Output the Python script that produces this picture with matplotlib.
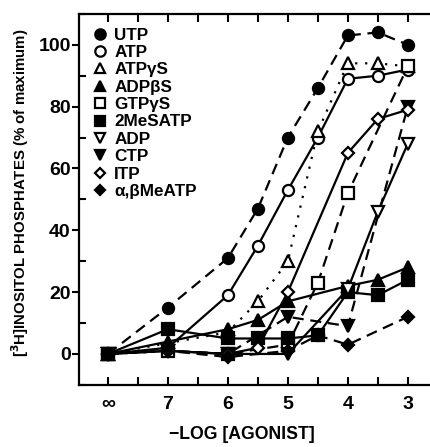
import numpy as np
import matplotlib.pyplot as plt
from matplotlib.lines import Line2D
from matplotlib.ticker import MultipleLocator

plt.rcParams['font.family'] = ['Liberation Sans', 'DejaVu Sans']
plt.rcParams['font.weight'] = 'bold'

# -log[agonist]; 8 stands for "infinity" (no agonist)
utp_x = [8, 7, 6, 5.5, 5, 4.5, 4, 3.5, 3]
utp_y = [0, 15, 31, 47, 70, 86, 103, 104, 100]
atp_x = [8, 7, 6, 5.5, 5, 4.5, 4, 3.5, 3]
atp_y = [0, 2, 19, 35, 53, 70, 89, 90, 92]
atpgs_x = [8, 6, 5.5, 5, 4.5, 4, 3.5, 3]
atpgs_y = [0, 7, 17, 30, 72, 94, 94, 93]
adpbs_x = [8, 7, 6, 5.5, 5, 4, 3.5, 3]
adpbs_y = [0, 4, 8, 11, 17, 22, 24, 28]
gtpgs_x = [8, 7, 6, 5, 4.5, 4, 3]
gtpgs_y = [0, 1, 0, 3, 23, 52, 93]
mesatp_x = [8, 7, 6, 5.5, 5, 4.5, 4, 3.5, 3]
mesatp_y = [0, 8, 5, 5, 5, 6, 20, 19, 24]
adp_x = [8, 7, 6, 5, 4, 3.5, 3]
adp_y = [0, 1, 0, 0, 21, 46, 68]
ctp_x = [8, 7, 6, 5, 4, 3]
ctp_y = [0, 1, 0, 12, 9, 80]
itp_x = [8, 7, 6, 5.5, 5, 4, 3.5, 3]
itp_y = [0, 1, 0, 2, 20, 65, 76, 79]
abme_x = [8, 7, 6, 5, 4.5, 4, 3]
abme_y = [0, 1, -1, 1, 6, 3, 12]

labels = ['UTP', 'ATP', 'ATPγS', 'ADPβS', 'GTPγS', '2MeSATP', 'ADP', 'CTP', 'ITP', 'α,βMeATP']
xticks = [8, 7, 6, 5, 4, 3]
xticklabels = ['∞', '7', '6', '5', '4', '3']

dash = (0, (5, 3))
series = [
    (utp_x, utp_y, 'o', 'k', dash),
    (atp_x, atp_y, 'o', 'w', '-'),
    (atpgs_x, atpgs_y, '^', 'w', (0, (1, 3.5))),
    (adpbs_x, adpbs_y, '^', 'k', '-'),
    (gtpgs_x, gtpgs_y, 's', 'w', dash),
    (mesatp_x, mesatp_y, 's', 'k', '-'),
    (adp_x, adp_y, 'v', 'w', '-'),
    (ctp_x, ctp_y, 'v', 'k', dash),
    (itp_x, itp_y, 'D', 'w', '-'),
    (abme_x, abme_y, 'D', 'k', dash),
]

fig = plt.figure(figsize=(4.30, 4.47), dpi=100)
ax = fig.add_axes([0.184, 0.139, 0.816, 0.83])

handles = []
for (x, y, m, fc, ls), lab in zip(series, labels):
    ms = 6 if m == 'D' else 8
    ax.plot(x, y, color='k', lw=1.6, ls=ls, zorder=2)
    ax.plot(x, y, ls='none', marker=m, ms=ms, mfc=fc, mec='k', mew=1.6, zorder=3)
    handles.append(Line2D([], [], ls='none', marker=m, ms=ms - 0.5, mfc=fc, mec='k', mew=1.6))

ax.set_xlim(8.48, 2.63)
ax.set_ylim(-10, 110)
ax.spines['right'].set_visible(False)
for s in ['left', 'top', 'bottom']:
    ax.spines[s].set_linewidth(1.6)

ax.set_xticks(xticks)
ax.set_xticklabels(xticklabels, fontsize=14, fontweight='bold')
ax.xaxis.set_minor_locator(MultipleLocator(0.5))
ax.tick_params(axis='x', which='both', direction='in', top=True, length=6, width=1.5, pad=8)
ax.set_yticks([0, 20, 40, 60, 80, 100])
ax.set_yticklabels(['0', '20', '40', '60', '80', '100'], fontsize=14, fontweight='bold')
ax.yaxis.set_minor_locator(MultipleLocator(10))
ax.tick_params(axis='y', which='major', direction='out', length=5, width=1.5, pad=1)
ax.tick_params(axis='y', which='minor', direction='in', length=5, width=1.5)

ax.set_xlabel('−LOG [AGONIST]', fontsize=12.7, fontweight='bold')
ax.xaxis.set_label_coords(0.464, -0.11)
ax.set_ylabel('[$^3$H]INOSITOL PHOSPHATES (% of maximum)', fontsize=10.8,
              fontweight='bold')
ax.yaxis.set_label_coords(-0.137, 0.517)

ax.legend(handles, labels, loc='upper left', bbox_to_anchor=(0.0, 1.0),
          frameon=False, handlelength=0.8, handletextpad=0.45,
          labelspacing=0.14, borderaxespad=0.4, prop={'weight': 'bold', 'size': 12.3})

fig.savefig('out.png', dpi=100)
